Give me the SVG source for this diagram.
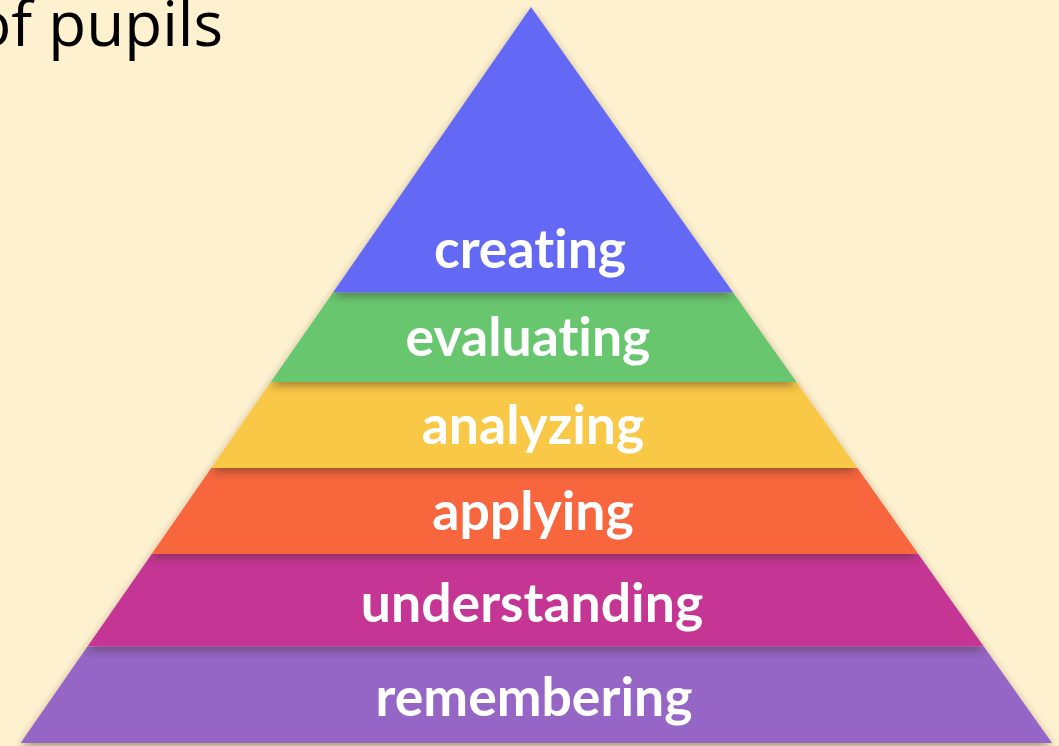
<svg xmlns="http://www.w3.org/2000/svg" width="1059" height="746" viewBox="0 0 1059 746">
<defs>
<filter id="sh" x="-10%" y="-10%" width="120%" height="130%">
<feDropShadow dx="0" dy="4" stdDeviation="4" flood-color="#3a2a20" flood-opacity="0.45"/>
</filter>
</defs>
<style>
.lbl{font-family:Lato,"Open Sans",sans-serif;font-weight:700;font-size:53.5px;fill:#ffffff;text-anchor:middle;font-variant-ligatures:none;font-feature-settings:"liga" 0}
.title{font-family:"Open Sans","Liberation Sans",sans-serif;font-size:62px;fill:#000000;text-anchor:end}
</style>
<rect x="0" y="0" width="1059" height="746" fill="#FEF1CF"/>
<text class="title" x="223" y="46">of pupils</text>
<g id="remembering">
<polygon points="87.5,646.5 983.8,646.5 1052.1,743 20.6,743" fill="#9566C6" filter="url(#sh)"/>
<text class="lbl" x="534" y="716">remembering</text>
</g>
<g id="understanding">
<polygon points="151.7,554 918.3,554 983.8,646.5 87.5,646.5" fill="#C53694" filter="url(#sh)"/>
<text class="lbl" x="532" y="622">understanding</text>
</g>
<g id="applying">
<polygon points="211.3,468 857.4,468 918.3,554 151.7,554" fill="#F8663C" filter="url(#sh)"/>
<text class="lbl" x="533" y="530">applying</text>
</g>
<g id="analyzing">
<polygon points="270.9,382 796.5,382 857.4,468 211.3,468" fill="#F9C846" filter="url(#sh)"/>
<text class="lbl" x="533" y="444">analyzing</text>
</g>
<g id="evaluating">
<polygon points="333,292.5 733.1,292.5 796.5,382 270.9,382" fill="#67C76E" filter="url(#sh)"/>
<text class="lbl" x="528" y="356">evaluating</text>
</g>
<g id="creating">
<polygon points="531,7 733.1,292.5 333,292.5" fill="#6469F4" filter="url(#sh)"/>
<text class="lbl" x="530" y="268">creating</text>
</g>
<g id="connectors"></g>
</svg>
